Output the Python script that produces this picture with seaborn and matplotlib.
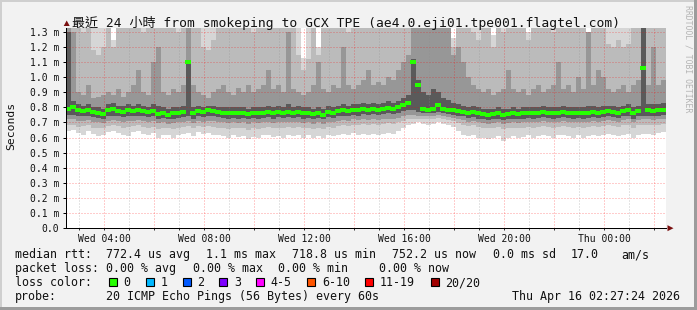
import numpy as np
import pandas as pd
import matplotlib
matplotlib.use("Agg")
import matplotlib.pyplot as plt
from matplotlib.path import Path
from matplotlib.markers import MarkerStyle
from matplotlib.patches import Rectangle, Polygon
import seaborn as sns

# ---------------- data ----------------
start_hour = 2 + 27 / 60 + 24 / 3600      # Wed 02:27:24 (hours after Wed 00:00)
span_hours = 24
bin_hours = 0.2                            # 12-minute consolidated columns

median_ms = [
    0.790, 0.800, 0.780, 0.775, 0.780, 0.770, 0.765, 0.755, 0.780, 0.790,
    0.775, 0.770, 0.780, 0.775, 0.780, 0.775, 0.770, 0.775, 0.755, 0.765,
    0.750, 0.760, 0.765, 0.770, 1.100, 0.760, 0.775, 0.770, 0.780, 0.775,
    0.770, 0.765, 0.760, 0.765, 0.760, 0.765, 0.755, 0.765, 0.760, 0.765,
    0.770, 0.760, 0.770, 0.765, 0.770, 0.765, 0.770, 0.760, 0.765, 0.755,
    0.765, 0.750, 0.770, 0.765, 0.775, 0.780, 0.775, 0.785, 0.780, 0.790,
    0.785, 0.790, 0.785, 0.790, 0.795, 0.790, 0.800, 0.815, 0.830, 1.100,
    0.950, 0.790, 0.785, 0.790, 0.815, 0.790, 0.785, 0.780, 0.775, 0.770,
    0.765, 0.770, 0.760, 0.755, 0.750, 0.755, 0.760, 0.750, 0.755, 0.760,
    0.755, 0.760, 0.765, 0.760, 0.765, 0.770, 0.765, 0.760, 0.765, 0.770,
    0.765, 0.760, 0.765, 0.760, 0.765, 0.770, 0.765, 0.770, 0.775, 0.770,
    0.765, 0.775, 0.780, 0.760, 0.775, 1.060, 0.780, 0.775, 0.780, 0.785,
]

# smoke: outermost (min..max) band
smoke_min = [
    0.640, 0.650, 0.630, 0.620, 0.640, 0.625, 0.610, 0.620, 0.635, 0.640,
    0.630, 0.620, 0.610, 0.635, 0.640, 0.625, 0.620, 0.630, 0.600, 0.620,
    0.615, 0.600, 0.620, 0.625, 0.630, 0.610, 0.635, 0.625, 0.630, 0.620,
    0.615, 0.610, 0.600, 0.615, 0.605, 0.610, 0.590, 0.605, 0.600, 0.615,
    0.620, 0.605, 0.610, 0.600, 0.620, 0.610, 0.620, 0.600, 0.615, 0.600,
    0.610, 0.600, 0.615, 0.610, 0.620, 0.625, 0.620, 0.630, 0.620, 0.625,
    0.620, 0.625, 0.620, 0.625, 0.630, 0.625, 0.640, 0.660, 0.680, 0.690,
    0.700, 0.690, 0.685, 0.690, 0.700, 0.690, 0.680, 0.670, 0.640, 0.620,
    0.610, 0.615, 0.600, 0.595, 0.590, 0.600, 0.610, 0.580, 0.600, 0.610,
    0.600, 0.605, 0.615, 0.600, 0.610, 0.620, 0.610, 0.600, 0.615, 0.620,
    0.610, 0.600, 0.615, 0.600, 0.610, 0.620, 0.610, 0.615, 0.625, 0.620,
    0.610, 0.620, 0.625, 0.600, 0.620, 0.625, 0.625, 0.620, 0.630, 0.635,
]
smoke_max = [
    1.40, 1.40, 1.40, 1.40, 1.40, 1.40, 1.40, 1.40, 1.40, 1.25,
    1.40, 1.40, 1.40, 1.40, 1.40, 1.40, 1.40, 1.40, 1.40, 1.40,
    1.40, 1.40, 1.40, 1.40, 1.40, 1.40, 1.40, 1.40, 1.40, 1.40,
    1.40, 1.40, 1.40, 1.40, 1.40, 1.40, 1.40, 1.40, 1.40, 1.40,
    1.40, 1.40, 1.40, 1.40, 1.40, 1.40, 1.40, 1.13, 1.40, 1.40,
    1.20, 1.40, 1.40, 1.40, 1.40, 1.40, 1.40, 1.40, 1.40, 1.40,
    1.40, 1.40, 1.40, 1.40, 1.40, 1.40, 1.40, 1.40, 1.40, 1.40,
    1.40, 1.40, 1.40, 1.40, 1.40, 1.40, 1.40, 1.26, 1.40, 1.40,
    1.40, 1.40, 1.40, 1.40, 1.40, 1.28, 1.40, 1.40, 1.40, 1.40,
    1.40, 1.40, 1.30, 1.40, 1.40, 1.40, 1.40, 1.40, 1.40, 1.40,
    1.40, 1.40, 1.40, 1.40, 1.28, 1.40, 1.40, 1.40, 1.40, 1.40,
    1.40, 1.40, 1.40, 1.40, 1.40, 1.40, 1.40, 1.40, 1.40, 1.40,
]
# second band
smoke_b_lo = [
    0.680, 0.685, 0.670, 0.675, 0.680, 0.665, 0.660, 0.665, 0.675, 0.680,
    0.675, 0.665, 0.670, 0.675, 0.680, 0.670, 0.665, 0.670, 0.655, 0.665,
    0.660, 0.655, 0.665, 0.670, 0.675, 0.660, 0.675, 0.670, 0.675, 0.670,
    0.665, 0.660, 0.655, 0.665, 0.660, 0.665, 0.650, 0.660, 0.655, 0.665,
    0.670, 0.660, 0.665, 0.660, 0.670, 0.665, 0.670, 0.660, 0.665, 0.655,
    0.660, 0.655, 0.670, 0.665, 0.675, 0.680, 0.675, 0.685, 0.680, 0.690,
    0.685, 0.690, 0.685, 0.690, 0.695, 0.690, 0.700, 0.710, 0.720, 0.720,
    0.725, 0.725, 0.720, 0.725, 0.730, 0.720, 0.715, 0.710, 0.695, 0.685,
    0.675, 0.680, 0.670, 0.665, 0.660, 0.665, 0.670, 0.655, 0.660, 0.665,
    0.660, 0.665, 0.670, 0.665, 0.670, 0.675, 0.670, 0.665, 0.670, 0.675,
    0.670, 0.665, 0.670, 0.665, 0.670, 0.675, 0.670, 0.675, 0.680, 0.675,
    0.670, 0.680, 0.685, 0.665, 0.680, 0.685, 0.685, 0.680, 0.685, 0.690,
]
smoke_b_hi = [
    1.40, 1.40, 1.40, 1.30, 1.40, 1.18, 1.15, 1.20, 1.40, 1.20,
    1.40, 1.35, 1.40, 1.40, 1.40, 1.30, 1.40, 1.40, 1.40, 1.40,
    1.40, 1.40, 1.30, 1.40, 1.40, 1.40, 1.40, 1.20, 1.18, 1.25,
    1.40, 1.40, 1.40, 1.35, 1.40, 1.40, 1.40, 1.30, 1.40, 1.40,
    1.40, 1.40, 1.40, 1.40, 1.40, 1.40, 1.15, 1.05, 1.12, 1.40,
    1.15, 1.40, 1.40, 1.40, 1.40, 1.40, 1.30, 1.40, 1.40, 1.40,
    1.40, 1.40, 1.35, 1.40, 1.40, 1.40, 1.40, 1.40, 1.40, 1.40,
    1.40, 1.40, 1.40, 1.40, 1.40, 1.40, 1.40, 1.20, 1.40, 1.40,
    1.40, 1.30, 1.25, 1.40, 1.40, 1.20, 1.40, 1.30, 1.40, 1.40,
    1.40, 1.35, 1.25, 1.40, 1.40, 1.40, 1.40, 1.30, 1.40, 1.40,
    1.40, 1.40, 1.40, 1.40, 1.25, 1.40, 1.40, 1.40, 1.22, 1.20,
    1.25, 1.20, 1.22, 1.40, 1.40, 1.40, 1.40, 1.40, 1.40, 1.40,
]
# third band
smoke_c_lo = [
    0.720, 0.720, 0.710, 0.710, 0.715, 0.705, 0.700, 0.695, 0.710, 0.715,
    0.710, 0.705, 0.710, 0.710, 0.715, 0.710, 0.705, 0.710, 0.695, 0.700,
    0.690, 0.695, 0.700, 0.705, 0.710, 0.695, 0.710, 0.705, 0.710, 0.710,
    0.705, 0.700, 0.695, 0.700, 0.695, 0.700, 0.690, 0.700, 0.695, 0.700,
    0.705, 0.695, 0.705, 0.700, 0.705, 0.700, 0.705, 0.695, 0.700, 0.690,
    0.700, 0.690, 0.705, 0.700, 0.710, 0.715, 0.710, 0.720, 0.715, 0.720,
    0.715, 0.720, 0.715, 0.720, 0.725, 0.720, 0.730, 0.740, 0.750, 0.750,
    0.745, 0.745, 0.740, 0.745, 0.750, 0.740, 0.735, 0.730, 0.720, 0.715,
    0.705, 0.710, 0.700, 0.695, 0.690, 0.695, 0.700, 0.690, 0.695, 0.700,
    0.695, 0.700, 0.705, 0.700, 0.705, 0.710, 0.705, 0.700, 0.705, 0.710,
    0.705, 0.700, 0.705, 0.700, 0.705, 0.710, 0.705, 0.710, 0.715, 0.710,
    0.705, 0.715, 0.720, 0.700, 0.715, 0.720, 0.720, 0.715, 0.720, 0.725,
]
smoke_c_hi = [
    1.40, 1.30, 0.90, 0.88, 0.95, 0.86, 0.87, 0.88, 0.90, 0.88,
    0.92, 0.87, 0.90, 0.95, 1.05, 0.90, 0.88, 1.10, 1.20, 0.90,
    0.88, 0.92, 0.90, 0.95, 1.40, 0.95, 0.90, 0.88, 0.86, 0.90,
    0.92, 0.95, 0.90, 0.88, 0.93, 0.90, 0.95, 0.90, 0.92, 0.95,
    1.05, 0.92, 0.95, 0.90, 1.30, 0.92, 0.90, 0.88, 0.90, 0.95,
    1.10, 0.92, 0.90, 0.95, 0.93, 1.20, 0.95, 0.92, 0.95, 0.98,
    1.05, 0.95, 0.97, 0.95, 1.00, 0.98, 1.05, 1.10, 1.15, 1.40,
    1.40, 1.40, 1.40, 1.40, 1.40, 1.40, 1.40, 1.15, 1.20, 1.10,
    1.00, 0.95, 0.92, 0.90, 0.92, 0.88, 0.90, 0.92, 1.05, 0.92,
    0.90, 0.92, 0.88, 0.92, 0.95, 0.90, 0.92, 0.95, 1.10, 0.92,
    0.95, 0.90, 1.00, 0.92, 1.30, 0.95, 1.05, 1.00, 0.92, 0.90,
    0.92, 0.95, 0.90, 0.95, 0.98, 1.40, 0.95, 1.20, 0.95, 0.98,
]
# innermost (darkest) band
smoke_d_lo = [
    0.750, 0.750, 0.740, 0.740, 0.745, 0.735, 0.730, 0.725, 0.740, 0.745,
    0.740, 0.735, 0.740, 0.740, 0.745, 0.740, 0.735, 0.740, 0.725, 0.730,
    0.720, 0.725, 0.730, 0.735, 0.740, 0.725, 0.740, 0.735, 0.740, 0.740,
    0.735, 0.730, 0.725, 0.730, 0.725, 0.730, 0.720, 0.730, 0.725, 0.730,
    0.735, 0.725, 0.735, 0.730, 0.735, 0.730, 0.735, 0.725, 0.730, 0.720,
    0.730, 0.720, 0.735, 0.730, 0.740, 0.745, 0.740, 0.750, 0.745, 0.755,
    0.750, 0.755, 0.750, 0.755, 0.760, 0.755, 0.765, 0.775, 0.785, 0.780,
    0.770, 0.765, 0.760, 0.765, 0.770, 0.760, 0.755, 0.750, 0.745, 0.740,
    0.730, 0.735, 0.725, 0.720, 0.715, 0.720, 0.725, 0.715, 0.720, 0.725,
    0.720, 0.725, 0.730, 0.725, 0.730, 0.735, 0.730, 0.725, 0.730, 0.735,
    0.730, 0.725, 0.730, 0.725, 0.730, 0.735, 0.730, 0.735, 0.740, 0.735,
    0.730, 0.740, 0.745, 0.725, 0.740, 0.745, 0.745, 0.740, 0.745, 0.750,
]
smoke_d_hi = [
    1.30, 0.84, 0.82, 0.81, 0.82, 0.80, 0.80, 0.79, 0.82, 0.83,
    0.81, 0.81, 0.82, 0.81, 0.82, 0.81, 0.80, 0.82, 0.81, 0.80,
    0.79, 0.80, 0.80, 0.81, 1.10, 0.80, 0.81, 0.80, 0.81, 0.81,
    0.80, 0.80, 0.80, 0.80, 0.80, 0.80, 0.79, 0.80, 0.80, 0.80,
    0.81, 0.80, 0.81, 0.80, 0.82, 0.80, 0.81, 0.80, 0.80, 0.79,
    0.80, 0.79, 0.81, 0.80, 0.81, 0.82, 0.81, 0.82, 0.82, 0.83,
    0.82, 0.83, 0.82, 0.83, 0.84, 0.83, 0.84, 0.86, 0.88, 1.12,
    0.98, 0.90, 0.88, 0.92, 0.90, 0.86, 0.85, 0.83, 0.82, 0.81,
    0.80, 0.81, 0.80, 0.79, 0.79, 0.79, 0.80, 0.79, 0.79, 0.80,
    0.79, 0.80, 0.80, 0.80, 0.80, 0.81, 0.80, 0.80, 0.80, 0.81,
    0.80, 0.80, 0.80, 0.80, 0.81, 0.81, 0.80, 0.81, 0.81, 0.81,
    0.80, 0.81, 0.82, 0.80, 0.81, 1.40, 0.82, 0.82, 0.82, 0.83,
]

x_tick_hours = [4, 8, 12, 16, 20, 24]
x_tick_labels = ["Wed 04:00", "Wed 08:00", "Wed 12:00", "Wed 16:00", "Wed 20:00", "Thu 00:00"]
y_ticks = [0.0, 0.1, 0.2, 0.3, 0.4, 0.5, 0.6, 0.7, 0.8, 0.9, 1.0, 1.1, 1.2, 1.3]
y_tick_labels = ["0.0", "0.1 m", "0.2 m", "0.3 m", "0.4 m", "0.5 m", "0.6 m",
                 "0.7 m", "0.8 m", "0.9 m", "1.0 m", "1.1 m", "1.2 m", "1.3 m"]

loss_labels = ["0", "1", "2", "3", "4-5", "6-10", "11-19", "20/20"]
loss_colors = ["#26ff00", "#00b8ff", "#0059ff", "#7e00ff", "#ff00ff", "#ff5500", "#ff0000", "#a10000"]

title = "最近 24 小時 from smokeping to GCX TPE (ae4.0.eji01.tpe001.flagtel.com)"
rtt_items = ["median rtt:", "772.4 us avg", "1.1 ms max", "718.8 us min",
             "752.2 us now", "0.0 ms sd", "17.0", "am/s"]
loss_items = ["packet loss:", "0.00 % avg", "0.00 % max", "0.00 % min", "0.00 % now"]
probe_items = ["probe:", "20 ICMP Echo Pings (56 Bytes) every 60s", "Thu Apr 16 02:27:24 2026"]

# ---------------- build ----------------
n = len(median_ms)
bin_start = start_hour + bin_hours * np.arange(n)
df = pd.DataFrame({"hour": bin_start + bin_hours / 2, "median": median_ms})
edges = np.append(bin_start, bin_start[-1] + bin_hours)

def ext(a):
    a = np.asarray(a, dtype=float)
    return np.append(a, a[-1])

sns.set_style("white")
plt.rcParams["font.family"] = ["DejaVu Sans Mono", "Noto Sans CJK TC"]

W, H = 697, 310
BG = "#f2f2f2"
fig = plt.figure(figsize=(W / 100, H / 100), dpi=100, facecolor=BG)

def fx(x):
    return x / W

def fy(y):
    return 1 - y / H

ax = fig.add_axes([fx(65.7), fy(228.0), 600 / W, 199.8 / H])
ax.set_facecolor("white")
ax.set_xlim(start_hour, start_hour + span_hours)
ax.set_ylim(0, 1.325)

bands = [
    (smoke_min, smoke_max, "#d6d6d6"),
    (smoke_b_lo, smoke_b_hi, "#bbbbbb"),
    (smoke_c_lo, smoke_c_hi, "#979797"),
    (smoke_d_lo, smoke_d_hi, "#5a5a5a"),
]
for lo, hi, col in bands:
    ax.fill_between(edges, ext(lo), ext(hi), step="post", color=col, lw=0, zorder=1)

# grid (drawn above smoke like rrdtool)
dot = (0, (1, 2))
for h in range(int(np.ceil(start_hour)), int(start_hour + span_hours) + 1):
    if h % 2 == 0:
        ax.axvline(h, color=(1, 0, 0, 0.40), lw=0.72, ls=dot, zorder=3)
    else:
        ax.axvline(h, color=(0.55, 0.55, 0.55, 0.45), lw=0.72, ls=dot, zorder=3)
for yv in y_ticks[1:]:
    ax.axhline(yv, color=(1, 0, 0, 0.40), lw=0.72, ls=dot, zorder=3)

# median (short green bars per column)
rect = Path([(-1, -0.62), (1, -0.62), (1, 0.62), (-1, 0.62), (-1, -0.62)],
            [Path.MOVETO, Path.LINETO, Path.LINETO, Path.LINETO, Path.CLOSEPOLY])
sns.scatterplot(data=df, x="hour", y="median", marker=MarkerStyle(rect), s=14,
                color=loss_colors[0], linewidth=0, ax=ax, zorder=4, legend=False)

ax.set_xlabel("")
ax.set_ylabel("")
for s in ["top", "right"]:
    ax.spines[s].set_visible(False)
for s in ["left", "bottom"]:
    ax.spines[s].set_color("black")
    ax.spines[s].set_linewidth(0.72)
    ax.spines[s].set_zorder(5)

ax.set_yticks(y_ticks)
ax.set_yticklabels(y_tick_labels)
ax.set_xticks(x_tick_hours)
ax.set_xticklabels(x_tick_labels)
ax.set_xticks(range(int(np.ceil(start_hour)), int(start_hour + span_hours) + 1), minor=True)
ax.tick_params(axis="y", which="major", direction="out", length=2.2, width=0.72,
               color="black", pad=2.6, labelsize=7.0, labelcolor="#111111", left=True)
ax.tick_params(axis="x", which="both", direction="out", length=1.5, width=0.72,
               color="#333333", pad=3.0, labelsize=7.0, labelcolor="#111111", bottom=True)
for lab in ax.get_xticklabels() + ax.get_yticklabels():
    lab.set_fontfamily("DejaVu Sans Mono")

# axis arrows
arrow_col = "#7a1010"
fig.patches.append(Polygon([(fx(667.5), fy(225.2)), (fx(673.5), fy(228.2)), (fx(667.5), fy(231.2))],
                           closed=True, transform=fig.transFigure, color=arrow_col, lw=0))
fig.patches.append(Polygon([(fx(63.7), fy(26.0)), (fx(66.7), fy(20.5)), (fx(69.7), fy(26.0))],
                           closed=True, transform=fig.transFigure, color=arrow_col, lw=0))

# frame shading
fig.patches.append(Rectangle((0, fy(2)), 1, 2 / H, transform=fig.transFigure, color="#cfcfcf", lw=0))
fig.patches.append(Rectangle((0, 0), 2 / W, 1, transform=fig.transFigure, color="#cfcfcf", lw=0))
fig.patches.append(Rectangle((0, 0), 1, 3 / H, transform=fig.transFigure, color="#9c9c9c", lw=0))
fig.patches.append(Rectangle((fx(694), 0), 3 / W, 1, transform=fig.transFigure, color="#9c9c9c", lw=0))

# texts
fig.text(fx(72.5), fy(26.5), title, fontsize=9.4, va="baseline", ha="left",
         family=["DejaVu Sans Mono", "Noto Sans CJK TC"], color="#111111")
fig.text(fx(11), fy(126), "Seconds", rotation=90, va="center", ha="center",
         fontsize=8.2, family="DejaVu Sans Mono", color="#111111")
fig.text(fx(688), fy(59), "RRDTOOL / TOBI OETIKER", rotation=270, va="center", ha="center",
         fontsize=5.9, family="DejaVu Sans Mono", color="#b4b4b4")

leg_fs = 8.4
row_base = [258.3, 272.2, 286.2, 299.8]
rtt_x = [15.2, 106.5, 205.5, 292.5, 392.5, 493.2, 570.8, 621.0]
for s, x in zip(rtt_items, rtt_x):
    fig.text(fx(x), fy(row_base[0]), s, fontsize=leg_fs, va="baseline", ha="left",
             family="DejaVu Sans Mono", color="#111111")
loss_x = [15.2, 106.5, 193.2, 278.5, 379.2]
for s, x in zip(loss_items, loss_x):
    fig.text(fx(x), fy(row_base[1]), s, fontsize=leg_fs, va="baseline", ha="left",
             family="DejaVu Sans Mono", color="#111111")
fig.text(fx(15.2), fy(row_base[2]), "loss color:", fontsize=leg_fs, va="baseline", ha="left",
         family="DejaVu Sans Mono", color="#111111")
box_x = [108.7, 145.7, 182.7, 219.3, 256.3, 307.3, 365.0, 430.7]
for lab, col, bx in zip(loss_labels, loss_colors, box_x):
    fig.patches.append(Rectangle((fx(bx), fy(286.0)), 8 / W, 8 / H, transform=fig.transFigure,
                                 facecolor=col, edgecolor="black", lw=0.8))
    fig.text(fx(bx + 14.6), fy(row_base[2]), lab, fontsize=leg_fs, va="baseline", ha="left",
             family="DejaVu Sans Mono", color="#111111")
probe_x = [15.2, 106.5, 512.5]
for s, x in zip(probe_items, probe_x):
    fig.text(fx(x), fy(row_base[3]), s, fontsize=leg_fs, va="baseline", ha="left",
             family="DejaVu Sans Mono", color="#111111")

fig.savefig("out.png", dpi=100, facecolor=BG)
